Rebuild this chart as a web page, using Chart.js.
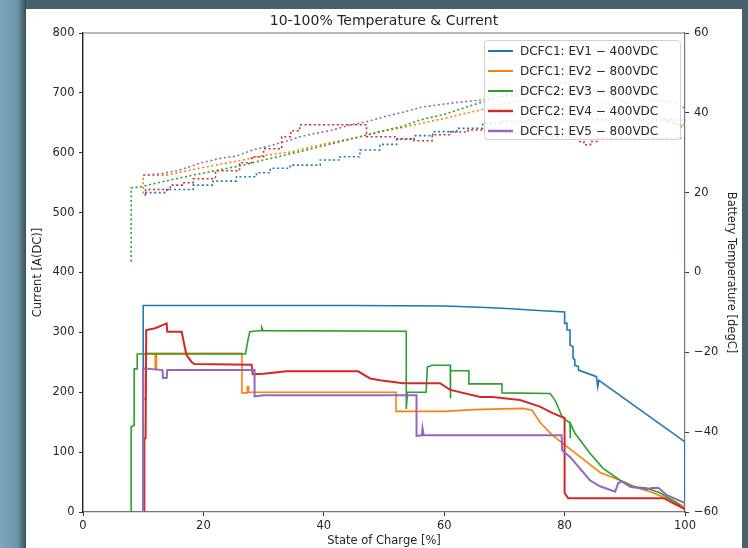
<!DOCTYPE html>
<html>
<head>
<meta charset="utf-8">
<script src="https://cdn.jsdelivr.net/npm/chart.js@4/dist/chart.umd.min.js"></script>
<style>

	html, body { margin: 0; padding: 0; }
	body { width: 748px; height: 548px; overflow: hidden; position: relative; background: #48616c; }
	#side { position: absolute; left: 0; top: 0; width: 26px; height: 548px; background: linear-gradient( to right, #7ea6ba 0%, #6f97ab 65%, #34505c 100% ); }
	#frame { position: absolute; left: 26px; top: 9px; width: 716px; height: 539px; background: #fff; }

</style>
</head>
<body>
<div id="side"></div>
<div id="frame"><canvas id="chart" width="716" height="539"></canvas></div>
<script>

// [ state of charge %, current A ]
const ev1Current = [ [ 10.0, 0 ], [ 10.0, 345 ], [ 45.0, 345 ], [ 60.0, 344 ], [ 66.0, 342 ], [ 70.4, 340 ], [ 75.0, 337 ], [ 80.0, 334 ], [ 80.0, 315 ], [ 80.4, 315 ], [ 80.4, 304 ], [ 80.9, 304 ], [ 80.9, 279 ], [ 81.4, 276 ], [ 81.4, 257 ], [ 81.7, 254 ], [ 81.7, 245 ], [ 82.3, 243 ], [ 82.3, 237 ], [ 85.3, 226 ], [ 85.5, 209 ], [ 85.7, 220 ], [ 100, 117 ], [ 100, 0 ] ];
const ev2Current = [ [ 10.0, 0 ], [ 10.0, 189 ], [ 10.4, 189 ], [ 10.4, 265 ], [ 12.0, 265 ], [ 12.0, 240 ], [ 12.2, 240 ], [ 12.2, 265 ], [ 26.4, 265 ], [ 26.4, 199 ], [ 27.3, 199 ], [ 27.3, 209 ], [ 27.5, 209 ], [ 27.5, 200 ], [ 52.0, 200 ], [ 52.0, 168 ], [ 60.0, 168 ], [ 65.0, 171 ], [ 73.0, 173 ], [ 74.6, 170 ], [ 75.9, 150 ], [ 78.0, 128 ], [ 80.4, 109 ], [ 82.6, 92 ], [ 85.9, 66 ], [ 89.2, 53 ], [ 92.0, 41 ], [ 94.7, 32 ], [ 97.0, 22 ], [ 100, 9 ] ];
const ev3Current = [ [ 8.0, 0 ], [ 8.0, 142 ], [ 8.5, 145 ], [ 8.5, 239 ], [ 9.0, 239 ], [ 9.0, 264 ], [ 27.0, 264 ], [ 27.4, 287 ], [ 27.7, 301 ], [ 29.6, 303 ], [ 29.7, 308 ], [ 29.9, 303 ], [ 53.7, 302 ], [ 53.7, 172 ], [ 53.9, 200 ], [ 57.0, 200 ], [ 57.2, 242 ], [ 58.0, 245 ], [ 61.0, 245 ], [ 61.0, 190 ], [ 61.1, 236 ], [ 64.1, 236 ], [ 64.1, 214 ], [ 69.6, 214 ], [ 69.6, 199 ], [ 77.6, 198 ], [ 78.4, 187 ], [ 79.6, 159 ], [ 80.9, 148 ], [ 80.9, 123 ], [ 81.0, 148 ], [ 81.7, 132 ], [ 84.2, 98 ], [ 86.4, 73 ], [ 89.2, 53 ], [ 91.4, 42 ], [ 93.6, 40 ], [ 95.8, 32 ], [ 98.7, 15 ], [ 100, 3 ] ];
const ev4Current = [ [ 10.2, 0 ], [ 10.2, 123 ], [ 10.4, 123 ], [ 10.5, 304 ], [ 12.0, 307 ], [ 13.9, 315 ], [ 14.0, 301 ], [ 16.4, 301 ], [ 16.9, 276 ], [ 17.2, 262 ], [ 18.0, 251 ], [ 18.5, 247 ], [ 28.0, 246 ], [ 28.2, 230 ], [ 30.0, 231 ], [ 33.8, 235 ], [ 45.7, 235 ], [ 47.7, 223 ], [ 49.3, 220 ], [ 53.2, 215 ], [ 59.3, 215 ], [ 61.0, 204 ], [ 66.0, 192 ], [ 68.0, 192 ], [ 72.6, 187 ], [ 75.9, 176 ], [ 78.0, 165 ], [ 80.0, 157 ], [ 80.0, 32 ], [ 80.6, 23 ], [ 96.5, 23 ], [ 98.0, 15 ], [ 100, 5 ] ];
const ev5Current = [ [ 10.0, 0 ], [ 10.0, 240 ], [ 13.2, 237 ], [ 13.3, 224 ], [ 13.9, 224 ], [ 14.0, 237 ], [ 28.5, 237 ], [ 28.5, 193 ], [ 30.0, 195 ], [ 55.4, 195 ], [ 55.4, 127 ], [ 56.3, 128 ], [ 56.4, 140 ], [ 56.6, 128 ], [ 79.5, 128 ], [ 79.6, 103 ], [ 80.9, 92 ], [ 82.6, 72 ], [ 84.2, 53 ], [ 85.9, 43 ], [ 88.4, 34 ], [ 88.9, 48 ], [ 89.5, 51 ], [ 90.9, 42 ], [ 93.6, 38 ], [ 94.5, 40 ], [ 95.6, 40 ], [ 97.0, 28 ], [ 100, 15 ] ];

// [ state of charge %, battery temperature degC ]
// EV1 and EV4 are read as steps (each point is where a new level starts)
const ev1Temp = [ [ 10.3, 20.0 ], [ 13.9, 20.8 ], [ 18.3, 21.9 ], [ 21.6, 22.9 ], [ 25.5, 24.0 ], [ 28.8, 25.0 ], [ 31.1, 26.1 ], [ 34.4, 26.9 ], [ 39.4, 28.2 ], [ 42.7, 29.0 ], [ 46.0, 30.7 ], [ 49.3, 32.1 ], [ 52.1, 33.4 ], [ 55.0, 34.3 ], [ 58.1, 35.3 ], [ 62.1, 36.1 ], [ 66.4, 37.4 ], [ 69.3, 37.8 ], [ 74.0, 38.3 ], [ 100, 38.0 ] ];
const ev2Temp = [ [ 10.0, 19.8 ], [ 10.0, 24.4 ], [ 13.9, 24.4 ], [ 18.3, 25.8 ], [ 22.0, 26.9 ], [ 26.6, 28.2 ], [ 30.0, 29.3 ], [ 34.9, 30.3 ], [ 38.0, 31.5 ], [ 42.0, 32.8 ], [ 46.0, 34.0 ], [ 49.0, 35.2 ], [ 52.7, 36.2 ], [ 56.0, 37.3 ], [ 60.0, 38.6 ], [ 63.0, 39.7 ], [ 66.0, 40.7 ], [ 71.4, 42.8 ], [ 76.0, 44.0 ], [ 82.0, 44.5 ], [ 90.0, 41.0 ], [ 96.0, 38.0 ], [ 100, 37.0 ] ];
const ev3Temp = [ [ 8.0, 2.7 ], [ 8.0, 21.2 ], [ 9.7, 21.5 ], [ 11.0, 22.0 ], [ 12.8, 22.6 ], [ 15.5, 23.5 ], [ 18.3, 24.4 ], [ 22.0, 25.5 ], [ 26.6, 26.9 ], [ 30.0, 28.2 ], [ 32.5, 29.0 ], [ 34.9, 29.9 ], [ 38.0, 31.0 ], [ 42.0, 32.5 ], [ 46.0, 34.0 ], [ 50.0, 35.5 ], [ 53.0, 36.6 ], [ 56.0, 38.2 ], [ 60.0, 39.6 ], [ 63.8, 41.5 ], [ 67.0, 43.0 ], [ 71.4, 45.0 ], [ 75.0, 46.5 ], [ 80.0, 47.5 ], [ 88.0, 44.0 ], [ 95.0, 39.5 ], [ 99.5, 36.5 ], [ 100, 36.5 ], [ 100, 2.5 ] ];
const ev4Temp = [ [ 10.2, 19.5 ], [ 10.4, 20.8 ], [ 14.5, 21.9 ], [ 16.5, 22.5 ], [ 18.3, 23.5 ], [ 22.0, 25.5 ], [ 26.0, 27.5 ], [ 28.0, 29.0 ], [ 30.0, 31.0 ], [ 33.0, 34.0 ], [ 34.5, 35.5 ], [ 36.0, 37.0 ], [ 47.1, 34.0 ], [ 52.0, 33.5 ], [ 55.0, 33.0 ], [ 58.0, 34.5 ], [ 61.0, 35.2 ], [ 64.0, 35.7 ], [ 70.0, 35.0 ], [ 76.0, 34.0 ], [ 81.0, 33.7 ], [ 82.5, 32.8 ], [ 83.2, 32.0 ], [ 84.3, 32.8 ], [ 85.5, 33.7 ], [ 100, 33.7 ] ];
const ev5Temp = [ [ 10.0, 24.4 ], [ 12.8, 24.7 ], [ 15.6, 25.5 ], [ 17.5, 26.4 ], [ 19.4, 27.4 ], [ 22.8, 28.6 ], [ 25.5, 29.2 ], [ 28.2, 30.7 ], [ 31.0, 31.7 ], [ 34.0, 33.0 ], [ 36.0, 34.0 ], [ 38.5, 34.8 ], [ 41.5, 35.7 ], [ 44.0, 36.8 ], [ 47.1, 37.8 ], [ 50.0, 39.0 ], [ 52.7, 40.0 ], [ 56.5, 41.5 ], [ 61.5, 42.5 ], [ 66.0, 43.2 ], [ 74.0, 45.0 ], [ 82.0, 46.0 ], [ 90.0, 44.5 ], [ 96.0, 43.0 ], [ 98.7, 42.5 ], [ 100, 41.1 ] ];

const seriesLabels = [ 'DCFC1: EV1 − 400VDC', 'DCFC1: EV2 − 800VDC', 'DCFC2: EV3 − 800VDC', 'DCFC2: EV4 − 400VDC', 'DCFC1: EV5 − 800VDC' ];
const seriesColours = [ '#1f77b4', '#ff7f0e', '#2ca02c', '#d62728', '#9467bd' ];
const seriesWidths = [ 1.6, 1.6, 1.6, 2, 2 ];
const tempStepped = [ true, false, false, true, false ];

const currents = [ ev1Current, ev2Current, ev3Current, ev4Current, ev5Current ];
const temps = [ ev1Temp, ev2Temp, ev3Temp, ev4Temp, ev5Temp ];

const font = 'DejaVu Sans';
const textColour = '#262626';

const toPoints = pairs => pairs.map( p => ( { x: p[ 0 ], y: p[ 1 ] } ) );

const datasets = [];

currents.forEach( ( series, i ) => {

	datasets.push( {
		label: seriesLabels[ i ],
		data: toPoints( series ),
		borderColor: seriesColours[ i ],
		borderWidth: seriesWidths[ i ],
		pointRadius: 0,
		yAxisID: 'current',
		order: 9 - i
	} );

} );

temps.forEach( ( series, i ) => {

	datasets.push( {
		label: seriesLabels[ i ] + ' temp',
		data: toPoints( series ),
		borderColor: seriesColours[ i ],
		borderWidth: 1.6,
		borderDash: [ 2, 2.6 ],
		stepped: tempStepped[ i ],
		pointRadius: 0,
		yAxisID: 'temp',
		order: 4 - i
	} );

} );

// top spine, matplotlib style
const framePlugin = {
	id: 'frame',
	beforeDatasetsDraw ( chart ) {

		const { ctx, chartArea } = chart;

		ctx.save();
		ctx.strokeStyle = '#777';
		ctx.lineWidth = 1.2;
		ctx.beginPath();
		ctx.moveTo( chartArea.left, chartArea.top );
		ctx.lineTo( chartArea.right, chartArea.top );
		ctx.stroke();
		ctx.restore();

	}
};

// boxed legend in the upper right of the plot
const legendPlugin = {
	id: 'boxLegend',
	afterDraw ( chart ) {

		const { ctx, chartArea } = chart;
		const w = 196;
		const h = 99;
		const x = chartArea.right - 5 - w;
		const y = chartArea.top + 7;

		ctx.save();
		ctx.fillStyle = 'rgba(255,255,255,0.85)';
		ctx.strokeStyle = '#d0d0d0';
		ctx.lineWidth = 1;
		ctx.beginPath();
		ctx.roundRect( x + 0.5, y + 0.5, w, h, 3 );
		ctx.fill();
		ctx.stroke();

		ctx.font = '12px "' + font + '"';
		ctx.textBaseline = 'middle';
		ctx.fillStyle = textColour;

		seriesLabels.forEach( ( label, i ) => {

			const cy = y + 11 + i * 20;

			ctx.strokeStyle = seriesColours[ i ];
			ctx.lineWidth = seriesWidths[ i ] + 0.4;
			ctx.beginPath();
			ctx.moveTo( x + 4, cy );
			ctx.lineTo( x + 29, cy );
			ctx.stroke();

			ctx.fillText( label, x + 36, cy + 1 );

		} );

		ctx.restore();

	}
};

const axisTicks = {
	font: { family: font, size: 11.5 },
	color: textColour
};

new Chart( document.getElementById( 'chart' ), {
	type: 'line',
	data: { datasets: datasets },
	options: {
		responsive: false,
		animation: false,
		layout: { padding: 0 },
		plugins: {
			legend: { display: false },
			tooltip: { enabled: false },
			title: {
				display: true,
				text: '10-100% Temperature & Current',
				color: textColour,
				font: { family: font, size: 14, weight: 'normal' },
				padding: { top: 3.6, bottom: 3.6 }
			}
		},
		scales: {
			x: {
				type: 'linear',
				min: 0,
				max: 100,
				afterFit: scale => { scale.height = 36; },
				ticks: { ...axisTicks, stepSize: 20, padding: 3, maxRotation: 0 },
				grid: { drawOnChartArea: false, tickLength: 4, color: '#333' },
				border: { color: '#777', width: 1.2 },
				title: {
					display: true,
					text: 'State of Charge [%]',
					color: textColour,
					font: { family: font, size: 11.5 },
					padding: { top: 0, bottom: 0 }
				}
			},
			current: {
				type: 'linear',
				position: 'left',
				min: 0,
				max: 800,
				afterFit: scale => { scale.width = 57; },
				ticks: { ...axisTicks, stepSize: 100, padding: 4.5 },
				grid: { drawOnChartArea: false, tickLength: 4, color: '#333' },
				border: { color: '#222', width: 1.4 },
				title: {
					display: true,
					text: 'Current [A(DC)]',
					color: textColour,
					font: { family: font, size: 11.5 },
					padding: { top: 5.5, bottom: 0 }
				}
			},
			temp: {
				type: 'linear',
				position: 'right',
				min: -60,
				max: 60,
				afterFit: scale => { scale.width = 57; },
				ticks: {
					...axisTicks,
					stepSize: 20,
					padding: 5,
					callback: v => String( v ).replace( '-', '\u2212' )
				},
				grid: { drawOnChartArea: false, tickLength: 4, color: '#333' },
				border: { color: '#777', width: 1.2 },
				title: {
					display: true,
					text: 'Battery Temperature [degC]',
					color: textColour,
					font: { family: font, size: 11.5 },
					padding: { top: 4, bottom: 0 }
				}
			}
		}
	},
	plugins: [ framePlugin, legendPlugin ]
} );

</script>
</body>
</html>
